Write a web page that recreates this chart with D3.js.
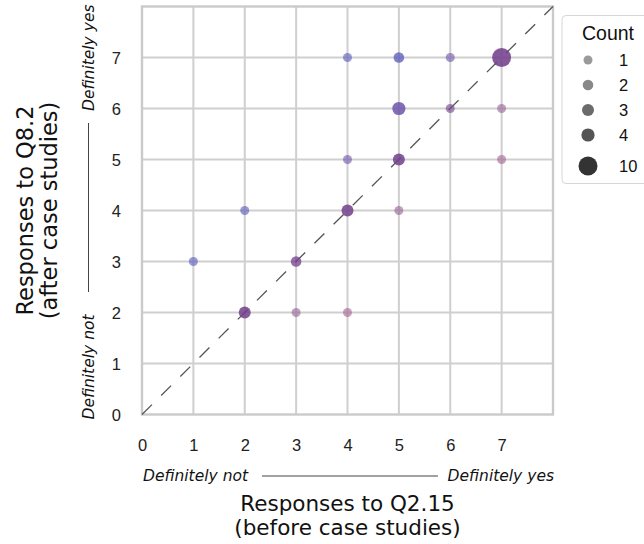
<!DOCTYPE html>
<html>
<head>
<meta charset="utf-8">
<script src="https://cdn.jsdelivr.net/npm/d3@7"></script>
<style>
  html, body { margin: 0; padding: 0; background: #fff; }
  svg { display: block; }
</style>
</head>
<body>
<svg id="chart" width="644" height="544"></svg>
<script>
// ---- data ----
const q215 = [4, 5, 6, 7, 5, 6, 7, 4, 5, 7, 2, 4, 5, 1, 3, 2, 3, 4];
const q82  = [7, 7, 7, 7, 6, 6, 6, 5, 5, 5, 4, 4, 4, 3, 3, 2, 2, 2];
const counts = [1, 2, 1, 10, 4, 1, 1, 1, 3, 1, 1, 3, 1, 1, 2, 3, 1, 1];
const tickValues = [0, 1, 2, 3, 4, 5, 6, 7];
const legendCounts = [1, 2, 3, 4, 10];
const xLabel = ["Responses to Q2.15", "(before case studies)"];
const yLabel = ["Responses to Q8.2", "(after case studies)"];
const lowText = "Definitely not";
const highText = "Definitely yes";
const legendTitle = "Count";

// ---- styles ----
const diffDomain = [-2, -1, 0, 1, 2, 3];
const diffColors = ["#a3618f", "#966196", "#723f8b", "#6e53aa", "#5757b7", "#5757b7"];
const alphaDomain = [1, 2, 3, 10];
const alphaRange = [0.6, 0.74, 0.85, 0.87];
const greyColors = ["#9a9a9a", "#888888", "#6b6b6b", "#555555", "#333333"];

const svg = d3.select("#chart");
const plot = { left: 142, right: 553, top: 6.5, bottom: 414.5 };

const x = d3.scaleLinear().domain([0, 8]).range([plot.left, plot.right]);
const y = d3.scaleLinear().domain([0, 8]).range([plot.bottom, plot.top]);
const areaScale = d3.scaleLinear().domain([1, 10]).range([81, 361]);
const radius = c => Math.sqrt(areaScale(c)) / 2;
const colorScale = d3.scaleLinear().domain(diffDomain).range(diffColors);
const alphaScale = d3.scaleLinear().domain(alphaDomain).range(alphaRange).clamp(true);
const greyScale = d3.scaleOrdinal().domain(legendCounts).range(greyColors);

const points = q215.map((v, i) => ({ x: v, y: q82[i], c: counts[i] }));

// grid
const g = svg.append("g");
g.selectAll("line.vx").data(tickValues.slice(1)).join("line")
  .attr("x1", d => x(d)).attr("x2", d => x(d))
  .attr("y1", plot.top).attr("y2", plot.bottom)
  .attr("stroke", "#cfcfcf").attr("stroke-width", 2);
g.selectAll("line.hy").data(tickValues.slice(1)).join("line")
  .attr("y1", d => y(d)).attr("y2", d => y(d))
  .attr("x1", plot.left).attr("x2", plot.right)
  .attr("stroke", "#cfcfcf").attr("stroke-width", 2);

// frame
g.append("rect")
  .attr("x", plot.left).attr("y", plot.top)
  .attr("width", plot.right - plot.left).attr("height", plot.bottom - plot.top)
  .attr("fill", "none").attr("stroke", "#cacaca").attr("stroke-width", 2.4);

// diagonal
g.append("line")
  .attr("x1", x(0)).attr("y1", y(0)).attr("x2", x(8)).attr("y2", y(8))
  .attr("stroke", "#555").attr("stroke-width", 1.3)
  .attr("stroke-dasharray", "14,13");

// points
g.selectAll("circle.pt").data(points).join("circle")
  .attr("cx", d => x(d.x)).attr("cy", d => y(d.y))
  .attr("r", d => radius(d.c))
  .attr("fill", d => colorScale(d.y - d.x))
  .attr("fill-opacity", d => alphaScale(d.c));

// axes (tick labels only)
const xAxis = d3.axisBottom(x).tickValues(tickValues).tickSize(0).tickPadding(0);
const xa = svg.append("g").attr("transform", `translate(0,${plot.bottom + 24})`).call(xAxis);
xa.select(".domain").remove();
xa.selectAll("text").attr("font-family", "Liberation Sans, Arial, sans-serif")
  .attr("font-size", 16.5).attr("fill", "#222").attr("dy", "0.75em");

const yAxis = d3.axisLeft(y).tickValues(tickValues).tickSize(0).tickPadding(0);
const ya = svg.append("g").attr("transform", `translate(${plot.left - 21},0)`).call(yAxis);
ya.select(".domain").remove();
ya.selectAll("text").attr("font-family", "Liberation Sans, Arial, sans-serif")
  .attr("font-size", 16.5).attr("fill", "#222").attr("dy", "0.35em");

// x low/high annotation
const italic = "DejaVu Sans, sans-serif";
const annSize = 15.5;
svg.append("text").attr("x", plot.left + 1).attr("y", 481)
  .attr("font-family", italic).attr("font-style", "italic").attr("font-size", annSize)
  .attr("fill", "#111").text(lowText);
svg.append("text").attr("x", plot.right + 1).attr("y", 481).attr("text-anchor", "end")
  .attr("font-family", italic).attr("font-style", "italic").attr("font-size", annSize)
  .attr("fill", "#111").text(highText);
svg.append("line").attr("x1", 262).attr("x2", 438).attr("y1", 476).attr("y2", 476)
  .attr("stroke", "#444").attr("stroke-width", 1);

// y low/high annotation
const yAnn = svg.append("g").attr("transform", "translate(94,0)");
yAnn.append("text").attr("transform", `translate(0,${plot.bottom + 5}) rotate(-90)`)
  .attr("font-family", italic).attr("font-style", "italic").attr("font-size", annSize)
  .attr("fill", "#111").text(lowText);
yAnn.append("text").attr("transform", `translate(0,${plot.top - 2}) rotate(-90)`)
  .attr("text-anchor", "end")
  .attr("font-family", italic).attr("font-style", "italic").attr("font-size", annSize)
  .attr("fill", "#111").text(highText);
svg.append("line").attr("x1", 88.5).attr("x2", 88.5).attr("y1", 123).attr("y2", 292)
  .attr("stroke", "#444").attr("stroke-width", 1);

// axis labels
const labelFont = "DejaVu Sans, sans-serif";
const cx = (plot.left + plot.right) / 2;
svg.append("text").attr("text-anchor", "middle").attr("font-family", labelFont)
  .attr("font-size", 21.5).attr("fill", "#111")
  .selectAll("tspan").data(xLabel).join("tspan")
  .attr("x", cx).attr("y", (d, i) => 511 + i * 24).text(d => d);

const cy = (plot.top + plot.bottom) / 2;
svg.append("text").attr("text-anchor", "middle").attr("font-family", labelFont)
  .attr("font-size", 22.5).attr("fill", "#111")
  .attr("transform", `translate(0,${cy}) rotate(-90)`)
  .selectAll("tspan").data(yLabel).join("tspan")
  .attr("x", 0).attr("y", (d, i) => 33 + i * 24).text(d => d);

// legend
const lg = svg.append("g");
lg.append("rect").attr("x", 562).attr("y", 15.5).attr("width", 100).attr("height", 168)
  .attr("rx", 4).attr("fill", "#fff").attr("stroke", "#d6d6d6").attr("stroke-width", 1);
lg.append("text").attr("x", 608).attr("y", 40).attr("text-anchor", "middle")
  .attr("font-family", "Liberation Sans, Arial, sans-serif").attr("font-size", 19.5)
  .attr("fill", "#111").text(legendTitle);
const legendY = d3.scalePoint().domain(legendCounts.slice(0, 4)).range([60, 135]);
const ly = c => c === 10 ? 166 : legendY(c);
const items = lg.selectAll("g.item").data(legendCounts).join("g")
  .attr("transform", d => `translate(0,${ly(d)})`);
items.append("circle").attr("cx", 588).attr("cy", 0).attr("r", d => radius(d))
  .attr("fill", d => greyScale(d));
items.append("text").attr("x", 619).attr("y", 0).attr("dy", "0.36em")
  .attr("font-family", "Liberation Sans, Arial, sans-serif").attr("font-size", 16.5)
  .attr("fill", "#111").text(d => d);
</script>
</body>
</html>
